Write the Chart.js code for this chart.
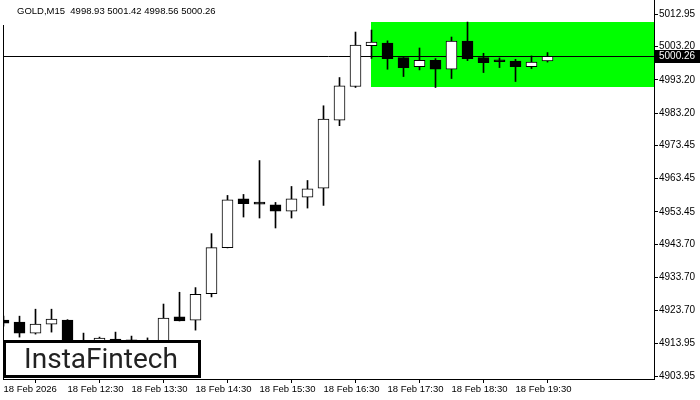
<!DOCTYPE html>
<html>
<head>
<meta charset="utf-8">
<script src="https://cdn.jsdelivr.net/npm/chart.js@4.4.1/dist/chart.umd.min.js"></script>
<style>
html, body { margin: 0; padding: 0; background: #fff; }
#wrap { position: relative; width: 700px; height: 400px; }
</style>
</head>
<body>
<div id="wrap"><canvas id="gold-chart" width="700" height="400"></canvas></div>
<script>
// GOLD M15 candles, 18 Feb 11:30 .. 19:45
const opens  = [4920.85, 4920.25, 4916.95, 4919.65, 4920.85, 4912.40, 4912.60, 4915.15, 4914.90, 4913.60,
                4914.00, 4921.85, 4920.85, 4928.85, 4942.70, 4957.40, 4955.95, 4955.60, 4953.70, 4957.90,
                4960.60, 4981.10, 4991.20, 5003.50, 5004.25, 4999.90, 4997.20, 4999.10, 4996.40, 5004.85,
                4999.90, 4998.70, 4998.85, 4997.20, 4998.93];
const highs  = [4922.05, 4922.05, 4924.15, 4924.15, 4921.00, 4916.95, 4915.75, 4917.25, 4916.05, 4915.50,
                4925.70, 4929.25, 4930.65, 4946.90, 4958.40, 4958.70, 4968.90, 4956.30, 4961.10, 4962.90,
                4985.40, 4993.90, 5007.60, 5008.20, 5004.95, 4999.95, 5002.80, 4999.60, 5006.10, 5010.60,
                5001.20, 4999.80, 4999.40, 5000.40, 5001.42];
const lows   = [4919.05, 4915.75, 4916.65, 4917.25, 4910.50, 4910.00, 4911.00, 4912.00, 4912.50, 4911.80,
                4913.20, 4920.60, 4917.85, 4927.85, 4942.60, 4951.90, 4951.60, 4948.60, 4951.60, 4954.60,
                4955.40, 4979.40, 4990.90, 4999.65, 4996.40, 4994.20, 4996.20, 4990.90, 4993.60, 4999.00,
                4995.40, 4996.90, 4992.70, 4996.60, 4998.56];
const closes = [4919.95, 4916.95, 4919.65, 4921.15, 4912.40, 4913.20, 4915.45, 4913.00, 4913.60, 4914.00,
                4921.45, 4920.60, 4928.60, 4942.70, 4957.10, 4955.90, 4955.80, 4953.70, 4957.40, 4960.40,
                4981.40, 4991.40, 5003.65, 5004.55, 4999.60, 4996.90, 4999.10, 4996.40, 5004.85, 4999.60,
                4998.40, 4998.65, 4997.20, 4998.55, 5000.26];

const xTickIdx = [0, 4, 8, 12, 16, 20, 24, 28, 32];
const xTickLabels = ['18 Feb 2026', '18 Feb 12:30', '18 Feb 13:30', '18 Feb 14:30', '18 Feb 15:30',
                     '18 Feb 16:30', '18 Feb 17:30', '18 Feb 18:30', '18 Feb 19:30'];
const yTicks = [5012.95, 5003.20, 4993.20, 4983.20, 4973.45, 4963.45, 4953.45, 4943.70, 4933.70,
                4923.70, 4913.95, 4903.95];

// green zone and current price
const zoneStart = 23;
const zoneHigh = 5010.60;
const zoneLow = 4991.10;
const lastPrice = closes[closes.length - 1];

const bodyColors = opens.map((o, i) => closes[i] > o + 0.2 ? '#ffffff' : '#000000');

const overlay = {
    id: 'overlay',
    beforeDatasetsDraw(chart) {
        const {ctx, chartArea: a, scales: {x, y}} = chart;
        ctx.save();
        ctx.fillStyle = '#00ff00';
        const x0 = Math.floor(x.getPixelForValue(zoneStart));
        const y0 = Math.round(y.getPixelForValue(zoneHigh));
        const y1 = Math.round(y.getPixelForValue(zoneLow));
        ctx.fillRect(x0, y0, a.right - x0, y1 - y0);
        // price line
        const py = Math.round(y.getPixelForValue(lastPrice)) + 0.5;
        ctx.strokeStyle = '#000';
        ctx.lineWidth = 1;
        ctx.beginPath();
        ctx.moveTo(a.left, py);
        ctx.lineTo(a.right, py);
        ctx.stroke();
        ctx.restore();
    },
    afterDraw(chart) {
        const {ctx, chartArea: a, scales: {y}} = chart;
        ctx.save();
        // left frame line
        ctx.strokeStyle = '#000';
        ctx.lineWidth = 1;
        ctx.beginPath();
        ctx.moveTo(a.left + 0.5, 25);
        ctx.lineTo(a.left + 0.5, a.bottom);
        ctx.stroke();
        // right frame line up to the top edge
        ctx.beginPath();
        ctx.moveTo(a.right + 0.5, 0);
        ctx.lineTo(a.right + 0.5, a.top);
        ctx.stroke();

        // title
        ctx.fillStyle = '#000';
        ctx.font = '9.5px "Liberation Sans"';
        ctx.textBaseline = 'middle';
        ctx.textAlign = 'left';
        ctx.fillText('GOLD,M15  ' + opens[opens.length - 1].toFixed(2) + ' ' + highs[highs.length - 1].toFixed(2) +
            ' ' + lows[lows.length - 1].toFixed(2) + ' ' + lastPrice.toFixed(2), 17, 11);

        // current price label
        const py = Math.round(y.getPixelForValue(lastPrice));
        ctx.fillStyle = '#000';
        ctx.fillRect(a.right + 1, py - 6, 700 - a.right - 1, 13);
        ctx.fillStyle = '#fff';
        ctx.font = '10px "Liberation Sans"';
        ctx.fillText(lastPrice.toFixed(2), a.right + 5, py + 0.5);

        // logo
        ctx.fillStyle = '#fff';
        ctx.fillRect(3, 340, 198, 38);
        ctx.strokeStyle = '#000';
        ctx.lineWidth = 3;
        ctx.strokeRect(4.5, 341.5, 195, 35);
        ctx.fillStyle = '#222';
        ctx.font = '400 28px Roboto';
        ctx.textAlign = 'center';
        ctx.textBaseline = 'alphabetic';
        ctx.fillText('InstaFintech', 101, 368);
        ctx.restore();
    }
};

const ctx = document.getElementById('gold-chart').getContext('2d');
var chart = new Chart(ctx, {
    type: 'bar',
    data: {
        datasets: [
            {
                label: 'bodies',
                data: opens.map((o, i) => ({x: i, y: [o, closes[i]]})),
                backgroundColor: bodyColors,
                borderColor: '#000',
                borderWidth: 1,
                borderSkipped: false,
                barThickness: 11,
                minBarLength: 2,
                grouped: false,
                order: 1,
            },
            {
                label: 'wicks',
                data: lows.map((l, i) => ({x: i, y: [l, highs[i]]})),
                backgroundColor: '#000',
                borderWidth: 0,
                barThickness: 1,
                grouped: false,
                order: 2,
            },
        ],
    },
    plugins: [overlay],
    options: {
        responsive: false,
        animation: false,
        devicePixelRatio: 1,
        layout: { padding: { left: 3, top: 0, right: 0, bottom: 0 } },
        plugins: {
            legend: { display: false },
            tooltip: { enabled: false },
        },
        scales: {
            x: {
                type: 'linear',
                min: -0.03125,
                max: 40.656,
                offset: false,
                position: 'bottom',
                grid: { drawOnChartArea: false, drawTicks: true, tickLength: 4, color: '#000' },
                border: { display: true, color: '#000', width: 1 },
                ticks: {
                    autoSkip: false,
                    maxRotation: 0,
                    align: 'start',
                    padding: 1,
                    color: '#000',
                    font: { family: 'Liberation Sans', size: 9.5 },
                    callback: function (value) {
                        const k = xTickIdx.indexOf(value);
                        return k >= 0 ? xTickLabels[k] : '';
                    }
                },
                afterBuildTicks: function (scale) {
                    scale.ticks = xTickIdx.map(v => ({value: v}));
                },
                afterFit: function (scale) { scale.height = 21; },
            },
            y: {
                type: 'linear',
                position: 'right',
                min: 4903.13,
                max: 5015.14,
                grid: { drawOnChartArea: false, drawTicks: true, tickLength: 4, color: '#000' },
                border: { display: true, color: '#000', width: 1 },
                ticks: {
                    padding: 1,
                    color: '#000',
                    font: { family: 'Liberation Sans', size: 10 },
                    callback: function (value) { return Number(value).toFixed(2); }
                },
                afterBuildTicks: function (scale) {
                    scale.ticks = yTicks.map(v => ({value: v}));
                },
                afterFit: function (scale) { scale.width = 46; },
            },
        },
    },
});
</script>
</body>
</html>
